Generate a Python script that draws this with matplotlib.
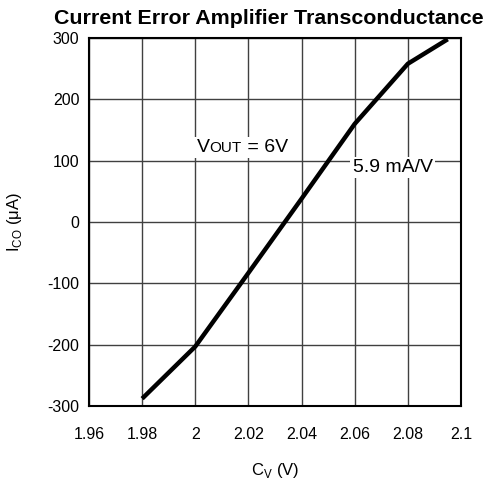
import matplotlib
matplotlib.use('Agg')
import matplotlib.pyplot as plt
import matplotlib.transforms as mtransforms
from matplotlib.patches import Rectangle

plt.rcParams['font.family'] = ['Liberation Sans', 'DejaVu Sans']
plt.rcParams['mathtext.fontset'] = 'custom'
plt.rcParams['mathtext.rm'] = 'Liberation Sans'
plt.rcParams['axes.unicode_minus'] = False

# Transconductance curve
cv = [1.98, 2.0, 2.02, 2.04, 2.06, 2.08, 2.095]
ico = [-288, -203, -83, 38, 160, 258, 298]

x_ticks = [1.96, 1.98, 2.0, 2.02, 2.04, 2.06, 2.08, 2.1]
x_labels = ['1.96', '1.98', '2', '2.02', '2.04', '2.06', '2.08', '2.1']
y_ticks = [-300, -200, -100, 0, 100, 200, 300]

fig = plt.figure(figsize=(4.87, 4.87), dpi=100)
ax = fig.add_axes([89 / 487, 81 / 487, 372 / 487, 368 / 487])

ax.plot(cv, ico, color='black', linewidth=3.2, solid_capstyle='butt', zorder=3)

ax.set_xlim(1.96, 2.1)
ax.set_ylim(-300, 300)
ax.set_xticks(x_ticks)
ax.set_xticklabels(x_labels)
ax.set_yticks(y_ticks)
ax.grid(True, color='#404040', linewidth=1.0, zorder=1)
ax.tick_params(axis='x', length=0, pad=15, labelsize=11.5)
ax.tick_params(axis='y', length=0, pad=7, labelsize=11.5)
for s in ax.spines.values():
    s.set_linewidth(1.5)

ax.set_title('Current Error Amplifier Transconductance', fontsize=15.4, fontweight='bold', pad=10)
ax.title.set_x(0.484)
ax.set_xlabel(r'C$_\mathregular{V}$ (V)', fontsize=12, labelpad=14)
ax.set_ylabel(r'I$_\mathregular{CO}$ ($\mathregular{\mu}$A)', fontsize=12, labelpad=17)

# "VOUT = 6V" label: subscript sits on the baseline in a smaller size
pieces = [('V', 14), ('OUT', 11), (' = 6V', 14)]
renderer = fig.canvas.get_renderer()
texts = []
dx = 0
for s, fs in pieces:
    tr = mtransforms.offset_copy(ax.transData, fig=fig, x=dx, y=0, units='dots')
    t = ax.text(2.0005, 114, s, fontsize=fs, va='baseline', ha='left', transform=tr, zorder=5)
    dx += t.get_window_extent(renderer).width
    texts.append(t)

t2 = ax.text(2.0593, 81, '5.9 mA/V', fontsize=14, va='baseline', ha='left', zorder=5)
texts.append(t2)

# white patches behind the labels
inv = ax.transAxes.inverted()
for group in (texts[:3], texts[3:]):
    bb = mtransforms.Bbox.union([t.get_window_extent(renderer) for t in group])
    (x0, y0), (x1, y1) = inv.transform([[bb.x0 - 3, bb.y0 - 2], [bb.x1 + 2, bb.y1 + 2]])
    ax.add_patch(Rectangle((x0, y0), x1 - x0, y1 - y0, transform=ax.transAxes,
                           facecolor='white', edgecolor='none', zorder=4))

plt.savefig('out.png', dpi=100)
